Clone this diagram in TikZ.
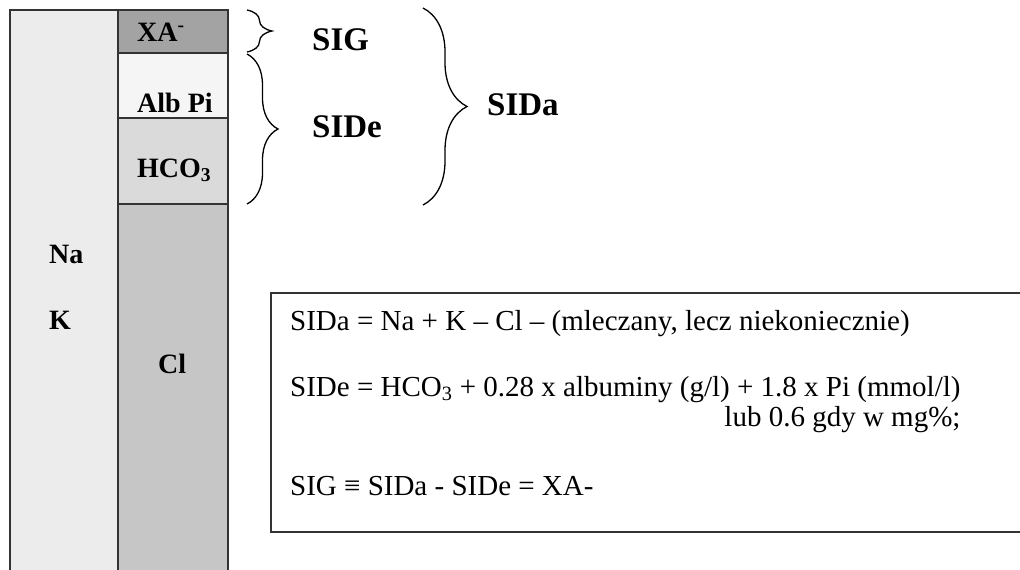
\documentclass[tikz,border=0pt]{standalone}
\usepackage{fontspec}
\setmainfont{Liberation Serif}
\usetikzlibrary{decorations.pathreplacing}

\definecolor{catgray}{HTML}{ECECEC}
\definecolor{xagray}{HTML}{A3A3A3}
\definecolor{albgray}{HTML}{F5F5F5}
\definecolor{hcogray}{HTML}{DADADA}
\definecolor{clgray}{HTML}{C6C6C6}

\begin{document}
\begin{tikzpicture}[x=1pt,y=-1pt,
    seg/.style={draw=black!80,line width=1.1pt},
    ion/.style={font=\fontsize{28}{30}\selectfont\bfseries,inner sep=0pt,
                anchor=base west},
    brlabel/.style={font=\fontsize{33}{35}\selectfont\bfseries,inner sep=0pt,
                anchor=base west},
    formula/.style={font=\fontsize{29}{33}\selectfont,inner sep=0pt,
                anchor=base west},
    brc/.style={decorate,decoration={brace,amplitude=#1},line width=1.3pt}]
  \useasboundingbox (0,0) rectangle (1020,570);

  % cation and anion columns
  \draw[seg,fill=catgray] (10,10) rectangle (118,590);
  \draw[seg,fill=xagray] (118,10) rectangle (228,53);
  \draw[seg,fill=albgray] (118,53) rectangle (228,118);
  \draw[seg,fill=hcogray] (118,118) rectangle (228,204);
  \draw[seg,fill=clgray] (118,204) rectangle (228,590);

  \node[ion] (xa) at (137,41) {XA\textsuperscript{-}};
  \node[ion] (albpi) at (137,112) {Alb Pi};
  \node[ion] (hco) at (137,177) {HCO\textsubscript{3}};
  \node[ion] (na) at (49,263) {Na};
  \node[ion] (k) at (49,329) {K};
  \node[ion] (cl) at (158,373) {Cl};

  % braces
  \coordinate (sigtop) at (247,10);
  \coordinate (sigbot) at (247,52);
  \coordinate (sidetop) at (247,54);
  \coordinate (sidebot) at (247,204);
  \coordinate (sidatop) at (423,8);
  \coordinate (sidabot) at (423,205);
  \draw[brc=25] (sigtop) -- (sigbot);
  \draw[brc=31] (sidetop) -- (sidebot);
  \draw[brc=44] (sidatop) -- (sidabot);

  \node[brlabel] (sig) at (312,50) {SIG};
  \node[brlabel] (side) at (312,137) {SIDe};
  \node[brlabel] (sida) at (487,115) {SIDa};

  % definitions
  \draw[seg] (1030,293) -- (271,293) -- (271,532) -- (1030,532);
  \node[formula] (defa) at (290,330)
    {SIDa = Na + K – Cl – (mleczany, lecz niekoniecznie)};
  \node[formula] (defe) at (290,396)
    {SIDe = HCO\textsubscript{3} + 0.28 x albuminy (g/l) + 1.8 x Pi (mmol/l)};
  \node[formula,anchor=base east] (defmg) at (defe.base east |- 0,426)
    {lub 0.6 gdy w mg\%;};
  \node[formula] (defg) at (290,495) {SIG ≡ SIDa - SIDe = XA-};
\end{tikzpicture}
\end{document}
